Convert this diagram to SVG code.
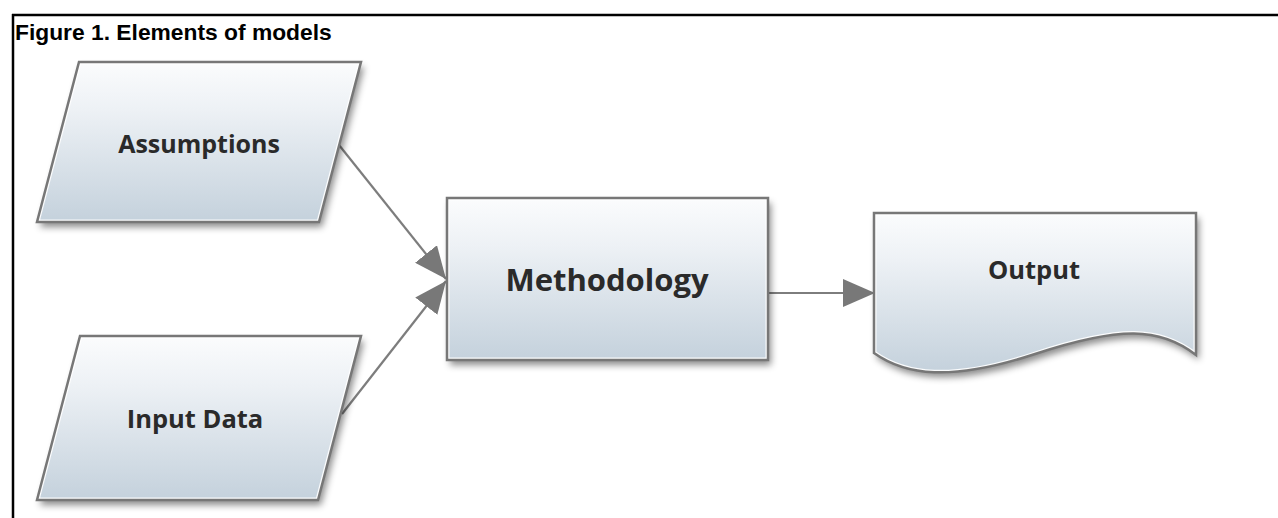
<svg xmlns="http://www.w3.org/2000/svg" width="1278" height="518" viewBox="0 0 1278 518">
<style>
.frame{stroke:#000;stroke-width:2.5;fill:none}
.title{font-family:"Liberation Sans",Arial,sans-serif;font-weight:bold;font-size:22.8px;fill:#000}
.shape{fill:url(#g);filter:url(#sh)}
.edge{fill:none;stroke:#777777;stroke-width:2.5}
.inner{fill:none;stroke:#ffffff;stroke-width:5;opacity:0.9}
.lbl{font-family:"Open Sans","Noto Sans","DejaVu Sans",sans-serif;font-weight:bold;fill:#2a2a2a;text-anchor:middle}
.conn{stroke:#7d7d7d;stroke-width:2.2;fill:none}
</style>
<defs>
<linearGradient id="g" x1="0" y1="0" x2="0" y2="1">
<stop offset="0" stop-color="#fbfcfd"/>
<stop offset="0.3" stop-color="#edf1f5"/>
<stop offset="1" stop-color="#c4d1dc"/>
</linearGradient>
<filter id="sh" x="-10%" y="-10%" width="125%" height="135%">
<feDropShadow dx="3" dy="5" stdDeviation="3.5" flood-color="#000" flood-opacity="0.45"/>
</filter>
<marker id="ah" markerUnits="userSpaceOnUse" markerWidth="32" markerHeight="28" refX="32" refY="14" orient="auto">
<path d="M0,0 L32,14 L0,28 z" fill="#787878"/>
</marker>
<clipPath id="c1"><path d="M79,62 H361 L319,222 H37 Z"/></clipPath>
<clipPath id="c2"><path d="M80,336 H361 L318,500 H37 Z"/></clipPath>
<clipPath id="c3"><rect x="447" y="198" width="321" height="162"/></clipPath>
<clipPath id="c4"><path d="M874,213 H1196 V355 C1160,327 1120,326 1035,354 C950,382 905,375 874,353 Z"/></clipPath>
</defs>
<rect width="1278" height="518" fill="#fff"/>
<path class="frame" d="M12,15 H1278 M13,14 V518"/>
<text class="title" x="15" y="40">Figure 1. Elements of models</text>
<g id="connectors">
<line class="conn" x1="339" y1="145" x2="446" y2="279" marker-end="url(#ah)"/>
<line class="conn" x1="342" y1="414" x2="446" y2="281" marker-end="url(#ah)"/>
<line class="conn" x1="768" y1="293" x2="875" y2="293" marker-end="url(#ah)"/>
</g>
<g id="assumptions">
<path class="shape" d="M79,62 H361 L319,222 H37 Z"/>
<path class="inner" clip-path="url(#c1)" d="M79,62 H361 L319,222 H37 Z"/>
<path class="edge" d="M79,62 H361 L319,222 H37 Z"/>
<text class="lbl" x="199" y="153" font-size="25">Assumptions</text>
</g>
<g id="input-data">
<path class="shape" d="M80,336 H361 L318,500 H37 Z"/>
<path class="inner" clip-path="url(#c2)" d="M80,336 H361 L318,500 H37 Z"/>
<path class="edge" d="M80,336 H361 L318,500 H37 Z"/>
<text class="lbl" x="195" y="428" font-size="25.5">Input Data</text>
</g>
<g id="methodology">
<rect class="shape" x="447" y="198" width="321" height="162"/>
<rect class="inner" clip-path="url(#c3)" x="447" y="198" width="321" height="162"/>
<rect class="edge" x="447" y="198" width="321" height="162"/>
<text class="lbl" x="607" y="291" font-size="31">Methodology</text>
</g>
<g id="output">
<path class="shape" d="M874,213 H1196 V355 C1160,327 1120,326 1035,354 C950,382 905,375 874,353 Z"/>
<path class="inner" clip-path="url(#c4)" d="M874,213 H1196 V355 C1160,327 1120,326 1035,354 C950,382 905,375 874,353 Z"/>
<path class="edge" d="M874,213 H1196 V355 C1160,327 1120,326 1035,354 C950,382 905,375 874,353 Z"/>
<text class="lbl" x="1034" y="279" font-size="25.5">Output</text>
</g>
</svg>
